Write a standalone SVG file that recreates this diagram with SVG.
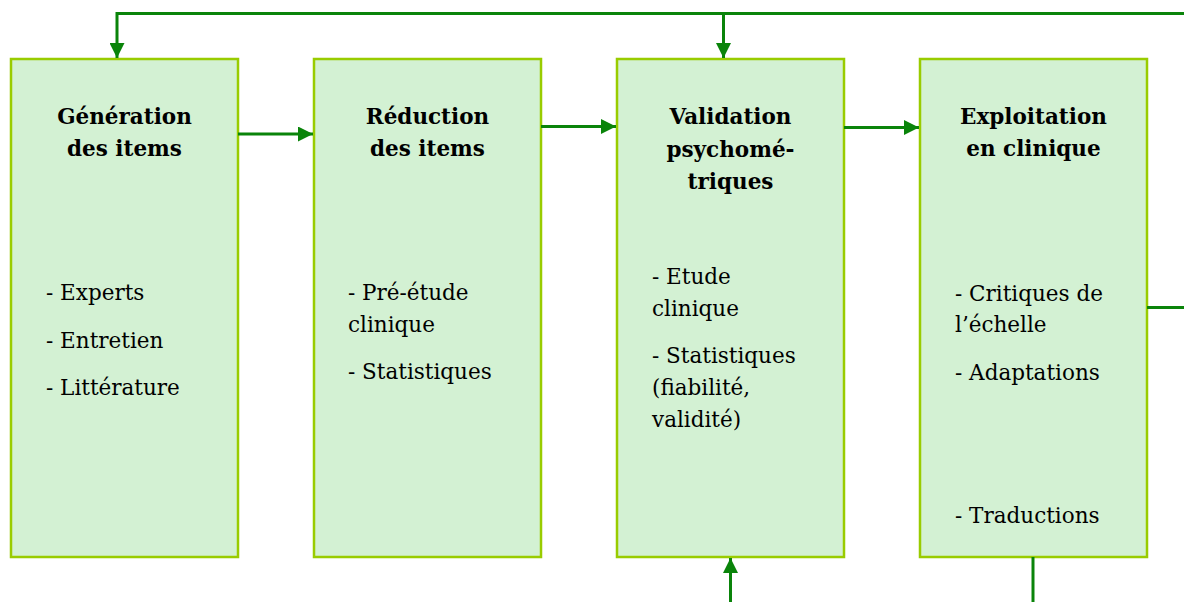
<svg xmlns="http://www.w3.org/2000/svg" width="1184" height="602" viewBox="0 0 1184 602">
<style>
.box{fill:#d3f1d3;stroke:#99cc00;stroke-width:2.5}
.t{font-family:"DejaVu Serif","Liberation Serif",serif;font-weight:bold;font-size:21.5px;fill:#000;text-anchor:middle}
.b{font-family:"DejaVu Serif","Liberation Serif",serif;font-size:21.5px;fill:#000}
.c{fill:none;stroke:#0a840a;stroke-width:3}
</style>
<defs>
<marker id="ah" viewBox="0 0 10 10" refX="10" refY="5" markerWidth="5" markerHeight="5" orient="auto" markerUnits="strokeWidth">
<path d="M0,0 L10,5 L0,10 z" fill="#0a840a"/>
</marker>
</defs>
<rect width="1184" height="602" fill="#fff"/>
<g id="node1">
<rect class="box" x="11" y="59" width="227" height="498"/>
<text class="t" x="124.5" y="124">Génération</text>
<text class="t" x="124.5" y="156">des items</text>
<text class="b" x="46" y="300">- Experts</text>
<text class="b" x="46" y="347.5">- Entretien</text>
<text class="b" x="46" y="395">- Littérature</text>
</g>
<g id="node2">
<rect class="box" x="314" y="59" width="227" height="498"/>
<text class="t" x="427.5" y="124">Réduction</text>
<text class="t" x="427.5" y="156">des items</text>
<text class="b" x="348" y="300">- Pré-étude</text>
<text class="b" x="348" y="332">clinique</text>
<text class="b" x="348" y="379">- Statistiques</text>
</g>
<g id="node3">
<rect class="box" x="617" y="59" width="227" height="498"/>
<text class="t" x="730.5" y="124">Validation</text>
<text class="t" x="730.5" y="157">psychomé-</text>
<text class="t" x="730.5" y="189">triques</text>
<text class="b" x="652" y="283.5">- Etude</text>
<text class="b" x="652" y="315.5">clinique</text>
<text class="b" x="652" y="363">- Statistiques</text>
<text class="b" x="652" y="395">(fiabilité,</text>
<text class="b" x="652" y="427">validité)</text>
</g>
<g id="node4">
<rect class="box" x="920" y="59" width="227" height="498"/>
<text class="t" x="1033.5" y="124">Exploitation</text>
<text class="t" x="1033.5" y="156">en clinique</text>
<text class="b" x="955" y="300.5">- Critiques de</text>
<text class="b" x="955" y="331.5">l’échelle</text>
<text class="b" x="955" y="380">- Adaptations</text>
<text class="b" x="955" y="523">- Traductions</text>
</g>
<g id="connectors">
<path class="c" d="M238,134 H313" marker-end="url(#ah)"/>
<path class="c" d="M541,126.5 H616" marker-end="url(#ah)"/>
<path class="c" d="M844,127.5 H919" marker-end="url(#ah)"/>
<path class="c" d="M1184,13.5 H117 V58" marker-end="url(#ah)"/>
<path class="c" d="M723.5,13.5 V58" marker-end="url(#ah)"/>
<path class="c" d="M1147,307.5 H1184"/>
<path class="c" d="M1033,557 V602"/>
<path class="c" d="M730.5,602 V558" marker-end="url(#ah)"/>
</g>
</svg>
